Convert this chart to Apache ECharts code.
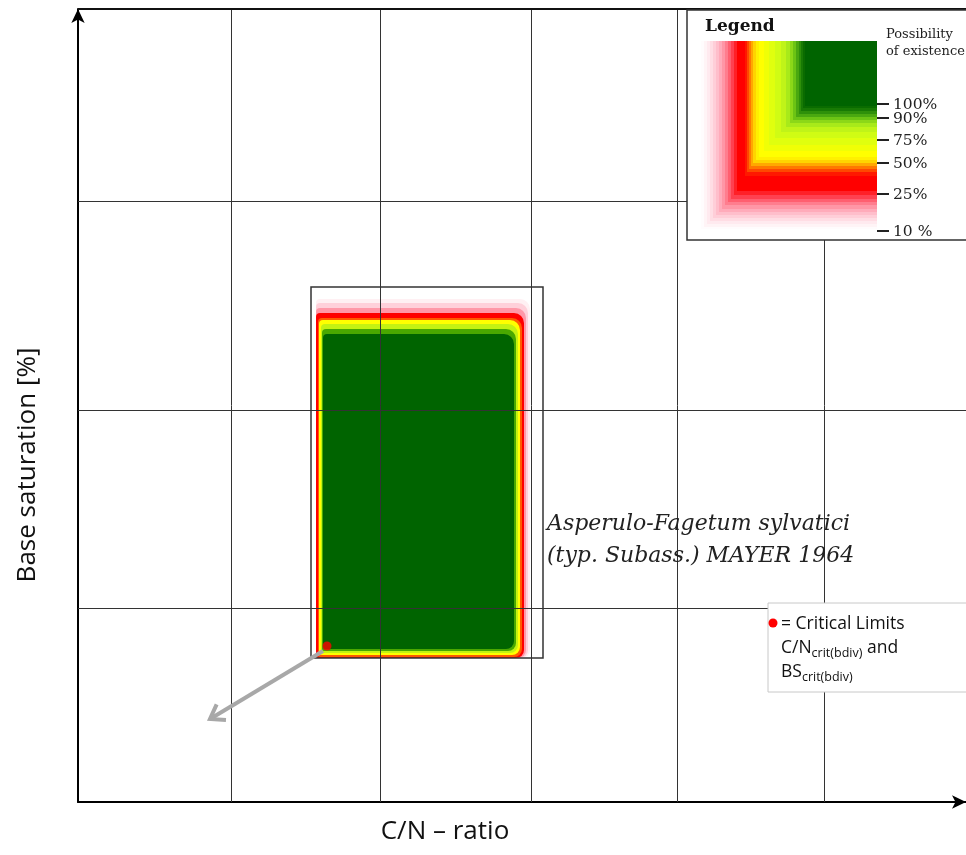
<!DOCTYPE html>
<html><head><meta charset="utf-8">
<script src="https://cdn.jsdelivr.net/npm/echarts@6/dist/echarts.min.js"></script>
<style>html,body{margin:0;padding:0;background:#fff}#c{width:966px;height:855px}</style>
</head><body><div id="c"></div>
<script>
// Axes are unlabeled in the reference: both use arbitrary relative units.
const xGridLines = [153, 302, 453, 599, 746];
const yGridLines = [194, 392, 601];
const yTopLine = 793;

// Possibility-of-existence bands of the community (outermost to innermost)
const bandLevels = ['10%', '15%', '20%', '25%', '40%', '50%', '75%', '90%', '100%'];
const bandXMin = [238, 238, 238, 238, 240, 241, 243, 244, 245];
const bandXMax = [452, 450, 448, 446, 444, 442, 440, 438, 436];
const bandYMin = [144, 144, 144, 144, 145, 147, 149, 151, 153];
const bandYMax = [503, 499, 494, 489, 484, 482, 478, 473, 468];

// Outer bounding box of the community range [xMin, xMax, yMin, yMax]
const rangeBox = [233, 465, 144, 515];
// Critical limit point and direction arrow
const criticalPoint = [249, 156];
const arrowFrom = [245, 151];
const arrowTo = [132, 83];

const legendTickLabels = ['100%', '90%', '75%', '50%', '25%', '10 %'];

// ---- styles ----
const bandPalette = ['#fff0f3', '#ffd0da', '#ff98a8', '#ff0000', '#ff5a00', '#ffff00', '#c4f212', '#4aa800', '#006400'];
const legendSteps = [
  [701, 229, '#fffcfd'], [704, 227, '#fff4f6'], [707, 224, '#ffeaef'], [710, 221, '#ffdde4'],
  [713, 218, '#ffced8'], [716, 215, '#ffbecb'], [719, 212, '#ffabba'], [722, 209, '#ff96a6'],
  [725, 205, '#ff7d8e'], [728, 202, '#ff5f70'], [731, 199, '#ff4050'], [734, 195, '#ff2028'],
  [737, 191, '#ff0000'], [745, 176, '#ff1800'], [747, 172, '#ff4800'], [749, 169, '#ff7800'],
  [751, 166, '#ffa800'], [753, 163, '#ffd400'], [756, 160, '#fff000'], [759, 157, '#ffff00'],
  [764, 151, '#f0ff06'], [769, 145, '#e0ff0e'], [775, 138, '#d0fc14'], [781, 132, '#c0f418'],
  [786, 127, '#a8ea1a'], [790, 123, '#8cd818'], [793, 120, '#6cc414'], [796, 117, '#4aa810'],
  [799, 114, '#2e900a'], [801, 111, '#187a04'], [803, 108, '#0a6c00'], [805, 106, '#006400']
];
const legendTickY = [104, 118, 140, 163, 194, 231];

const chart = echarts.init(document.getElementById('c'), null, {renderer: 'canvas'});

const bandData = bandLevels.map((l, i) => [bandXMin[i], bandXMax[i], bandYMin[i], bandYMax[i], i]);

const graphics = [];
// legend box background
graphics.push({type: 'rect', z: 100, shape: {x: 687, y: 10, width: 290, height: 230}, style: {fill: '#fff', stroke: null}});
legendSteps.forEach(s => {
  graphics.push({type: 'rect', z: 101, shape: {x: s[0], y: 41, width: 877 - s[0], height: s[1] - 41}, style: {fill: s[2]}});
});
graphics.push({type: 'text', z: 102, style: {text: 'Legend', x: 705, y: 27, font: 'bold 17px "DejaVu Serif"', fill: '#111', textVerticalAlign: 'middle'}});
graphics.push({type: 'text', z: 102, style: {text: 'Possibility', x: 886, y: 35, font: '13px "DejaVu Serif"', fill: '#222', textVerticalAlign: 'middle'}});
graphics.push({type: 'text', z: 102, style: {text: 'of existence', x: 886, y: 52, font: '13px "DejaVu Serif"', fill: '#222', textVerticalAlign: 'middle'}});
legendTickLabels.forEach((t, i) => {
  graphics.push({type: 'line', z: 102, shape: {x1: 877, y1: legendTickY[i], x2: 889, y2: legendTickY[i]}, style: {stroke: '#222', lineWidth: 2}});
  graphics.push({type: 'text', z: 102, style: {text: t, x: 893, y: legendTickY[i] + 1, font: '15.5px "DejaVu Serif"', fill: '#222', textVerticalAlign: 'middle'}});
});
// crop below legend box
graphics.push({type: 'rect', z: 103, shape: {x: 870, y: 241, width: 100, height: 12}, style: {fill: '#fff'}});
graphics.push({type: 'rect', z: 104, shape: {x: 687, y: 10, width: 290, height: 230}, style: {fill: null, stroke: '#333', lineWidth: 1.5}});

// critical limits box
graphics.push({type: 'rect', z: 100, shape: {x: 768, y: 603, width: 210, height: 89}, style: {fill: '#fff', stroke: '#c8c8c8', lineWidth: 1}});
graphics.push({type: 'circle', z: 101, shape: {cx: 773, cy: 623, r: 4.5}, style: {fill: '#ff0000'}});
graphics.push({type: 'text', z: 101, style: {
  text: '= Critical Limits\nC/N{s|crit(bdiv)} and\nBS{s|crit(bdiv)}',
  x: 781, y: 612, font: '17.5px "Open Sans"', fill: '#111', lineHeight: 24,
  rich: {s: {fontSize: 12.5, fontFamily: 'Open Sans', fill: '#111', verticalAlign: 'bottom', lineHeight: 13}}
}});

// annotation
graphics.push({type: 'text', z: 90, style: {text: 'Asperulo-Fagetum sylvatici', x: 547, y: 524, font: 'italic 22px "DejaVu Serif"', fill: '#222', textVerticalAlign: 'middle'}});
graphics.push({type: 'text', z: 90, style: {text: '(typ. Subass.) MAYER 1964', x: 547, y: 556, font: 'italic 22px "DejaVu Serif"', fill: '#222', textVerticalAlign: 'middle'}});

// axis titles
graphics.push({type: 'text', z: 90, x: 28, y: 465, rotation: Math.PI / 2, style: {text: 'Base saturation [%]', x: 0, y: 0, font: '26px "Open Sans"', fill: '#111', textAlign: 'center', textVerticalAlign: 'middle'}});
graphics.push({type: 'text', z: 90, style: {text: 'C/N \u2013 ratio', x: 445, y: 832, font: '26px "Open Sans"', fill: '#111', textAlign: 'center', textVerticalAlign: 'middle'}});

const option = {
  animation: false,
  grid: {left: 78, top: 9, right: 0, bottom: 53, containLabel: false},
  xAxis: {type: 'value', min: 0, max: 888,
    axisLine: {show: true, lineStyle: {color: '#000', width: 2}, symbol: ['none', 'arrow'], symbolSize: [10, 14], symbolOffset: [0, 0]},
    axisTick: {show: false}, axisLabel: {show: false}, splitLine: {show: false}},
  yAxis: {type: 'value', min: 0, max: yTopLine,
    axisLine: {show: true, lineStyle: {color: '#000', width: 2}, symbol: ['none', 'arrow'], symbolSize: [10, 14], symbolOffset: [0, 0]},
    axisTick: {show: false}, axisLabel: {show: false}, splitLine: {show: false}},
  series: [
    {
      type: 'custom', z: 2, silent: true,
      data: bandData,
      encode: {x: [0, 1], y: [2, 3]},
      renderItem: function (params, api) {
        const p0 = api.coord([api.value(0), api.value(3)]);
        const p1 = api.coord([api.value(1), api.value(2)]);
        const idx = api.value(4);
        return {type: 'rect', shape: {x: p0[0], y: p0[1], width: p1[0] - p0[0], height: p1[1] - p0[1], r: [4, 10, 8, 2]},
          style: {fill: bandPalette[idx]}};
      }
    },
    {
      type: 'custom', z: 3, silent: true,
      data: [rangeBox],
      encode: {x: [0, 1], y: [2, 3]},
      renderItem: function (params, api) {
        const p0 = api.coord([api.value(0), api.value(3)]);
        const p1 = api.coord([api.value(1), api.value(2)]);
        return {type: 'rect', shape: {x: p0[0], y: p0[1], width: p1[0] - p0[0], height: p1[1] - p0[1]},
          style: {fill: null, stroke: '#333', lineWidth: 1.5}};
      }
    },
    {
      type: 'line', z: 4, data: [], silent: true,
      markLine: {
        silent: true, symbol: ['none', 'none'], label: {show: false},
        lineStyle: {color: '#333', width: 1, type: 'solid'},
        data: xGridLines.map(v => ({xAxis: v})).concat(yGridLines.map(v => ({yAxis: v})))
          .concat([{yAxis: yTopLine, lineStyle: {color: '#111', width: 2}}])
      }
    },
    {
      type: 'custom', z: 5, silent: true,
      data: [[arrowFrom[0], arrowFrom[1], arrowTo[0], arrowTo[1]]],
      encode: {x: [0, 2], y: [1, 3]},
      renderItem: function (params, api) {
        const a = api.coord([api.value(0), api.value(1)]);
        const b = api.coord([api.value(2), api.value(3)]);
        const ang = Math.atan2(a[1] - b[1], a[0] - b[0]);
        const L = 16, sp = 0.6;
        const h1 = [b[0] + L * Math.cos(ang + sp), b[1] + L * Math.sin(ang + sp)];
        const h2 = [b[0] + L * Math.cos(ang - sp), b[1] + L * Math.sin(ang - sp)];
        const st = {stroke: '#a8a8a8', lineWidth: 4, lineCap: 'butt', lineJoin: 'miter', fill: null};
        return {type: 'group', children: [
          {type: 'line', shape: {x1: a[0], y1: a[1], x2: b[0], y2: b[1]}, style: st},
          {type: 'polyline', shape: {points: [h1, b, h2]}, style: st}
        ]};
      }
    },
    {
      type: 'scatter', z: 6, silent: true,
      data: [criticalPoint], symbolSize: 9, itemStyle: {color: '#ff0000'}
    }
  ],
  graphic: graphics
};
chart.setOption(option);
</script>
</body></html>
